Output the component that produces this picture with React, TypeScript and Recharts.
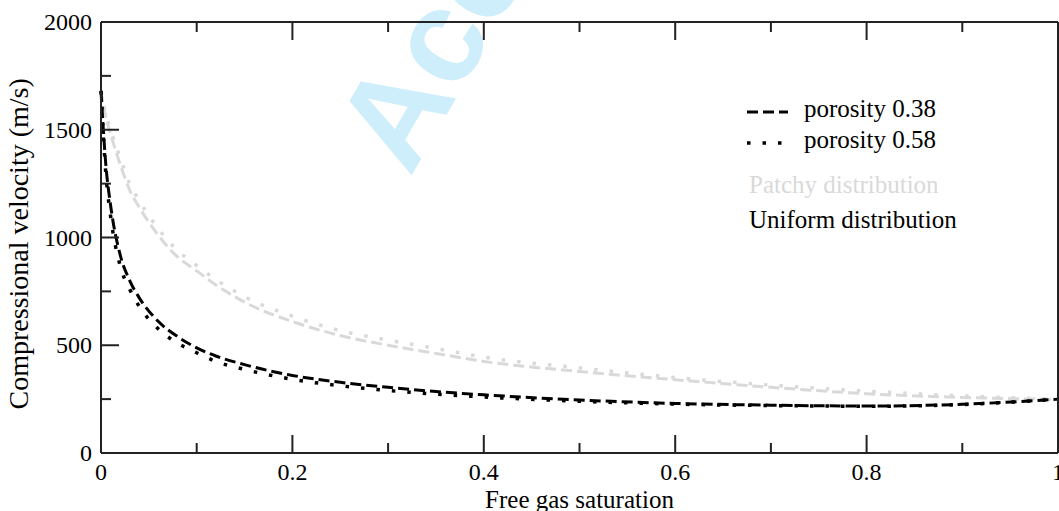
import React from 'react'
import { LineChart, Line, XAxis, YAxis } from 'recharts'

// free gas saturation (x)
const saturation = [0, 0.005, 0.01, 0.02, 0.03, 0.04, 0.06, 0.08, 0.1, 0.12, 0.15, 0.2, 0.25, 0.3, 0.35, 0.4, 0.5, 0.6, 0.7, 0.8, 0.9, 1.0]
// compressional velocity (m/s)
const uniform038 = [1680, 1340, 1150, 920, 800, 720, 610, 540, 488, 450, 410, 360, 328, 305, 285, 270, 246, 230, 222, 218, 226, 250]
const uniform058 = [1680, 1300, 1100, 870, 760, 680, 575, 510, 465, 425, 388, 342, 312, 290, 273, 260, 240, 227, 220, 217, 225, 250]
const patchy038 = [1680, 1560, 1480, 1340, 1220, 1140, 1010, 910, 845, 780, 700, 610, 545, 500, 462, 425, 378, 340, 305, 275, 258, 248]
const patchy058 = [1680, 1575, 1500, 1370, 1250, 1170, 1040, 940, 870, 805, 725, 635, 568, 524, 485, 445, 395, 350, 315, 287, 265, 250]

const xTicks = [0, 0.1, 0.2, 0.3, 0.4, 0.5, 0.6, 0.7, 0.8, 0.9, 1]
const xLabels = ['0', '', '0.2', '', '0.4', '', '0.6', '', '0.8', '', '1']
const yTicks = [0, 250, 500, 750, 1000, 1250, 1500, 1750, 2000]
const yLabels = ['0', '', '500', '', '1000', '', '1500', '', '2000']

const data = saturation.map((s, i) => ({
  s,
  u38: uniform038[i],
  u58: uniform058[i],
  p38: patchy038[i],
  p58: patchy058[i],
}))

const serif = '"Liberation Serif", "Times New Roman", serif'
const GRAY = '#d9d9d9'
const DASH = '11 5'
const DOT = '3.5 12'

const BottomTick = (props: any) => {
  const { x, y, index } = props
  const label = xLabels[index]
  return (
    <g>
      <line x1={x} y1={y} x2={x} y2={y - (label ? 18 : 10)} stroke="#222" strokeWidth={2} />
      {label && (
        <text x={x} y={y + 27} textAnchor="middle" fontSize={24} fontFamily={serif} fill="#000">
          {label}
        </text>
      )}
    </g>
  )
}

const TopTick = (props: any) => {
  const { x, y, index } = props
  const major = xLabels[index] !== ''
  return <line x1={x} y1={y} x2={x} y2={y + (major ? 18 : 10)} stroke="#222" strokeWidth={2} />
}

const LeftTick = (props: any) => {
  const { x, y, index } = props
  const label = yLabels[index]
  return (
    <g>
      <line x1={x} y1={y} x2={x + (label ? 18 : 10)} y2={y} stroke="#222" strokeWidth={2} />
      {label && (
        <text x={x - 9} y={y + 8} textAnchor="end" fontSize={24} fontFamily={serif} fill="#000">
          {label}
        </text>
      )}
    </g>
  )
}

const RightTick = (props: any) => {
  const { x, y, index } = props
  const major = yLabels[index] !== ''
  return <line x1={x} y1={y} x2={x - (major ? 18 : 10)} y2={y} stroke="#222" strokeWidth={2} />
}

const App = () => {
  return (
    <div style={{ position: 'absolute', left: 0, top: 0, width: 1059, height: 511, overflow: 'hidden', background: '#fff' }}>
      {/* watermark */}
      <svg width={1059} height={511} style={{ position: 'absolute', left: 0, top: 0 }}>
        <text
          x={410}
          y={178}
          transform="rotate(-60 410 178)"
          fontSize={132}
          fontWeight="bold"
          fontFamily='"Liberation Sans", Arial, sans-serif'
          fill="#cdeefa"
        >
          Accepted Manuscript
        </text>
      </svg>
      <div style={{ position: 'absolute', left: 0, top: 0 }}>
        <LineChart width={1059} height={511} data={data} margin={{ top: 0, right: 0, left: 0, bottom: 0 }}>
          <XAxis
            dataKey="s"
            type="number"
            domain={[0, 1]}
            ticks={xTicks}
            interval={0}
            height={58}
            tickSize={0}
            tickMargin={0}
            tickLine={false}
            tick={BottomTick}
            axisLine={{ stroke: '#222', strokeWidth: 2 }}
            label={{ value: 'Free gas saturation', position: 'insideBottom', offset: 3, fontSize: 25, fontFamily: serif, fill: '#000' }}
          />
          <XAxis
            xAxisId="top"
            orientation="top"
            dataKey="s"
            type="number"
            domain={[0, 1]}
            ticks={xTicks}
            interval={0}
            height={22}
            tickSize={0}
            tickMargin={0}
            tickLine={false}
            tick={TopTick}
            axisLine={{ stroke: '#222', strokeWidth: 2 }}
          />
          <YAxis
            type="number"
            domain={[0, 2000]}
            ticks={yTicks}
            interval={0}
            width={101}
            tickSize={0}
            tickMargin={0}
            tickLine={false}
            tick={LeftTick}
            axisLine={{ stroke: '#222', strokeWidth: 2 }}
            label={{ value: 'Compressional velocity (m/s)', angle: -90, position: 'insideLeft', offset: 18, dy: 172, fontSize: 28, fontFamily: serif, fill: '#000' }}
          />
          <YAxis
            yAxisId="right"
            orientation="right"
            type="number"
            domain={[0, 2000]}
            ticks={yTicks}
            interval={0}
            width={1}
            tickSize={0}
            tickMargin={0}
            tickLine={false}
            tick={RightTick}
            axisLine={{ stroke: '#222', strokeWidth: 2 }}
          />
          <Line type="monotone" dataKey="p38" stroke={GRAY} strokeWidth={3} strokeDasharray={DASH} dot={false} isAnimationActive={false} />
          <Line type="monotone" dataKey="p58" stroke={GRAY} strokeWidth={3.5} strokeDasharray={DOT} dot={false} isAnimationActive={false} />
          <Line type="monotone" dataKey="u38" stroke="#000" strokeWidth={3} strokeDasharray={DASH} dot={false} isAnimationActive={false} />
          <Line type="monotone" dataKey="u58" stroke="#000" strokeWidth={3.5} strokeDasharray={DOT} dot={false} isAnimationActive={false} />
        </LineChart>
      </div>
      {/* legend */}
      <svg width={1059} height={511} style={{ position: 'absolute', left: 0, top: 0, pointerEvents: 'none' }}>
        <line x1={747} y1={112} x2={788} y2={112} stroke="#000" strokeWidth={3} strokeDasharray={DASH} />
        <text x={804} y={117} fontSize={25} fontFamily={serif} fill="#000">porosity 0.38</text>
        <line x1={747} y1={143} x2={788} y2={143} stroke="#000" strokeWidth={3.5} strokeDasharray={DOT} />
        <text x={804} y={148} fontSize={25} fontFamily={serif} fill="#000">porosity 0.58</text>
        <text x={749} y={193} fontSize={25} fontFamily={serif} fill={GRAY}>Patchy distribution</text>
        <text x={749} y={228} fontSize={25} fontFamily={serif} fill="#000">Uniform distribution</text>
      </svg>
    </div>
  )
}

export default App
